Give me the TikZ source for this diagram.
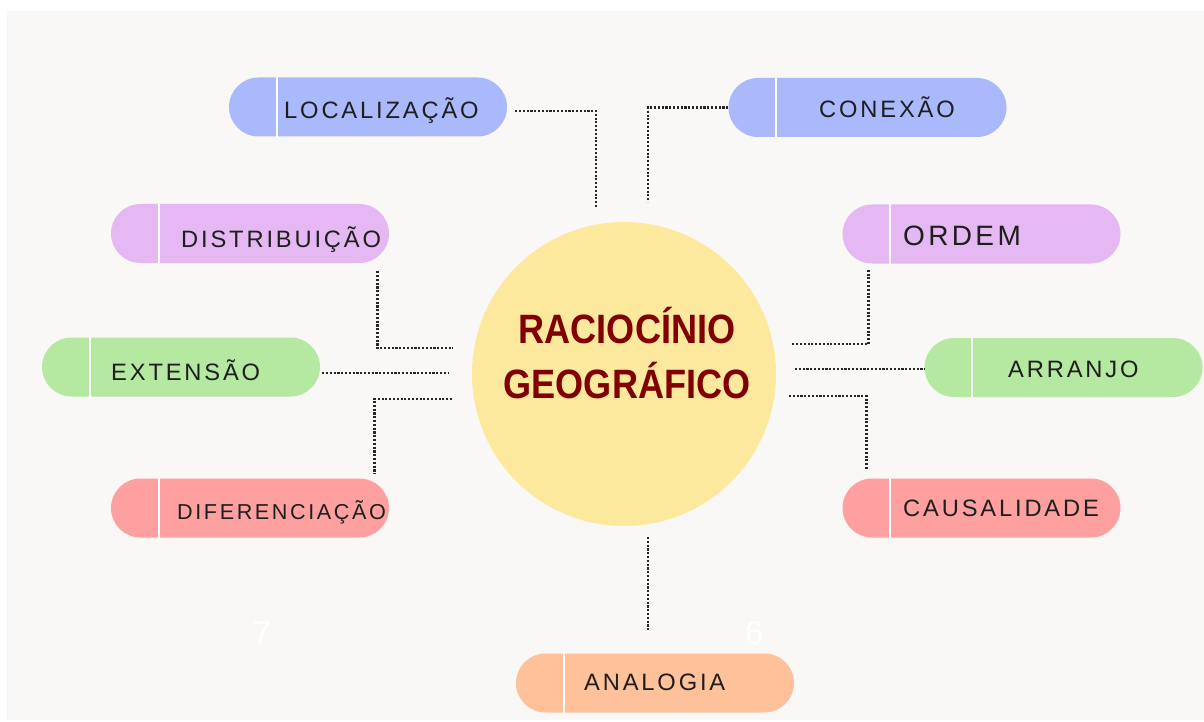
\documentclass[tikz,border=0pt]{standalone}
\usepackage{fontspec}
\setmainfont{Liberation Sans}
\newfontfamily\labelfont[LetterSpace=12]{Liberation Sans}
\newfontfamily\titlefont[FakeStretch=0.88]{Liberation Sans}
\usepackage{tikz}
\usetikzlibrary{positioning}
\definecolor{paper}{RGB}{249,248,246}
\definecolor{sun}{RGB}{253,233,157}
\definecolor{wine}{RGB}{128,0,0}
\definecolor{ink}{RGB}{30,30,30}
\definecolor{pblue}{RGB}{170,185,252}
\definecolor{plilac}{RGB}{229,184,243}
\definecolor{pgreen}{RGB}{181,232,160}
\definecolor{pred}{RGB}{255,160,160}
\definecolor{porange}{RGB}{255,193,154}

\begin{document}
\begin{tikzpicture}[x=1pt, y=-1pt,
	pill/.style={rectangle, rounded corners=29.5pt, minimum width=278pt, minimum height=59pt, inner sep=0pt},
	lbl/.style={anchor=base west, inner sep=0pt, text=ink, font=\labelfont\fontsize{23.7}{28}\selectfont},
	ttl/.style={anchor=base, inner sep=0pt, text=wine, font=\titlefont\bfseries\fontsize{41}{50}\selectfont},
	link/.style={black!85, line width=2.7pt, dash pattern=on 2.1pt off 1.7pt},
	divider/.style={white, line width=2pt}]
		\fill[white] (0,0) rectangle (1204,722);
		\useasboundingbox (0,0) rectangle (1204,722);
		\fill[paper] (7,11) rectangle (1204,720);

		%centre
		\node[circle, fill=sun, minimum size=304pt, inner sep=0pt] (rg) at (624,374) {};
		\node[ttl] (rg1) at (627,343) {RACIOCÍNIO};
		\node[ttl] (rg2) at (627,398) {GEOGRÁFICO};

		%pills left
		\node[pill, fill=pblue] (loc) at (368,107) {};
		\node[pill, fill=plilac] (dis) at (250,233.5) {};
		\node[pill, fill=pgreen] (ext) at (181,367) {};
		\node[pill, fill=pred] (dif) at (250,508) {};
		%pills right
		\node[pill, fill=pblue] (con) at (867.5,107.5) {};
		\node[pill, fill=plilac] (ord) at (981.5,234) {};
		\node[pill, fill=pgreen] (arr) at (1063.5,367.5) {};
		\node[pill, fill=pred] (cau) at (981.5,508) {};
		\node[pill, fill=porange] (ana) at (655,683) {};

		\foreach \p in {loc,dis,ext,dif,con,ord,arr,cau,ana}
		\draw[divider] ([xshift=48pt]\p.north west) -- ([xshift=48pt]\p.south west);

		%labels
		\node[lbl] (tloc) at (284,119) {LOCALIZAÇÃO};
		\node[lbl] (tdis) at (181,247) {DISTRIBUIÇÃO};
		\node[lbl] (text) at (111,380) {EXTENSÃO};
		\node[lbl, font=\labelfont\fontsize{21.6}{26}\selectfont] (tdif) at (177,519) {DIFERENCIAÇÃO};
		\node[lbl] (tcon) at (819,118) {CONEXÃO};
		\node[lbl, font=\labelfont\fontsize{28}{32}\selectfont] (tord) at (903,245) {ORDEM};
		\node[lbl] (tarr) at (1008,377) {ARRANJO};
		\node[lbl] (tcau) at (903,516) {CAUSALIDADE};
		\node[lbl] (tana) at (584,690) {ANALOGIA};

		%page numbers
		\node[text=white, font=\fontsize{33}{36}\selectfont, inner sep=0pt] (n7) at (262,633) {7};
		\node[text=white, font=\fontsize{33}{36}\selectfont, inner sep=0pt] (n6) at (754,633) {6};

		%dotted links
		\coordinate (cl) at (596,207);
		\coordinate (cd) at (453,348);
		\coordinate (ce) at (448,373);
		\coordinate (cf) at (452,399);
		\coordinate (cc) at (648,202);
		\coordinate (co) at (792,344);
		\coordinate (ca) at (795,369);
		\coordinate (cu) at (789,396);
		\coordinate (cn) at (648,537);

		\draw[link] ([shift={(8,4)}]loc.east) -| (cl);
		\draw[link] ([shift={(-12,8)}]dis.south east) |- (cd);
		\draw[link] ([shift={(2,6)}]ext.east) -- (ce);
		\draw[link] (cf) -| ([shift={(-15,-5)}]dif.north east);
		\draw[link] (con.west) -| (cc);
		\draw[link] ([shift={(26,6)}]ord.south west) |- (co);
		\draw[link] (ca) -- (ca -| arr.west);
		\draw[link] (cu) -| ([shift={(24,-9)}]cau.north west);
		\draw[link] (cn) -- ([shift={(-7,-22)}]ana.north);
\end{tikzpicture}
\end{document}
